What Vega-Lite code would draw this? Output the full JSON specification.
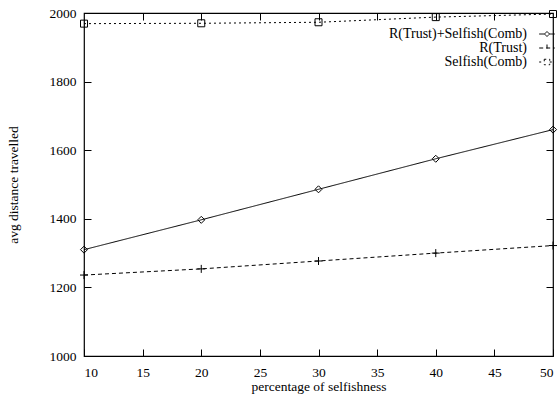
{
  "$schema": "https://vega.github.io/schema/vega-lite/v6.json",
  "width": 469,
  "height": 343,
  "autosize": "none",
  "padding": {"left": 84, "top": 13, "right": 5, "bottom": 39},
  "config": {
    "font": "Liberation Serif",
    "view": {"stroke": "black", "strokeWidth": 1.2},
    "axis": {
      "domain": false,
      "grid": false,
      "tickColor": "black",
      "tickSize": -7,
      "tickWidth": 1,
      "labelColor": "black",
      "labelFont": "Liberation Serif",
      "labelFontSize": 13.5,
      "titleFont": "Liberation Serif",
      "titleFontSize": 13.5,
      "titleFontWeight": "normal",
      "titleColor": "black"
    }
  },
  "data": {
    "values": [
      {"x": 10, "y": 1310, "series": "R(Trust)+Selfish(Comb)"},
      {"x": 20, "y": 1397, "series": "R(Trust)+Selfish(Comb)"},
      {"x": 30, "y": 1486, "series": "R(Trust)+Selfish(Comb)"},
      {"x": 40, "y": 1575, "series": "R(Trust)+Selfish(Comb)"},
      {"x": 50, "y": 1660, "series": "R(Trust)+Selfish(Comb)"},
      {"x": 10, "y": 1236, "series": "R(Trust)"},
      {"x": 20, "y": 1254, "series": "R(Trust)"},
      {"x": 30, "y": 1277, "series": "R(Trust)"},
      {"x": 40, "y": 1300, "series": "R(Trust)"},
      {"x": 50, "y": 1322, "series": "R(Trust)"},
      {"x": 10, "y": 1969, "series": "Selfish(Comb)"},
      {"x": 20, "y": 1970, "series": "Selfish(Comb)"},
      {"x": 30, "y": 1973, "series": "Selfish(Comb)"},
      {"x": 40, "y": 1988, "series": "Selfish(Comb)"},
      {"x": 50, "y": 1997, "series": "Selfish(Comb)"}
    ]
  },
  "layer": [
    {
      "mark": {"type": "line", "color": "black", "strokeWidth": 1},
      "encoding": {
        "x": {
          "field": "x", "type": "quantitative",
          "scale": {"domain": [10, 50], "nice": false},
          "axis": {"values": [10, 15, 20, 25, 30, 35, 40, 45, 50], "title": "percentage of selfishness", "labelPadding": 16, "titlePadding": 1}
        },
        "y": {
          "field": "y", "type": "quantitative",
          "scale": {"domain": [1000, 2000], "nice": false},
          "axis": {"values": [1000, 1200, 1400, 1600, 1800, 2000], "format": "d", "title": "avg distance travelled", "labelPadding": 15, "titlePadding": 29}
        },
        "strokeDash": {
          "field": "series", "type": "nominal",
          "scale": {"domain": ["R(Trust)+Selfish(Comb)", "R(Trust)", "Selfish(Comb)"], "range": [[1, 0], [4, 3], [2, 3]]},
          "legend": {
            "title": null,
            "orient": "none",
            "legendX": 456,
            "legendY": 14,
            "labelFont": "Liberation Serif",
            "labelFontSize": 14,
            "labelColor": "black",
            "labelAlign": "right",
            "labelOffset": -27,
            "rowPadding": -5,
            "symbolSize": 100,
            "symbolStrokeWidth": 1,
            "symbolStrokeColor": "black",
            "encode": {
              "symbols": {
                "update": {
                  "shape": {"signal": "datum.value == 'R(Trust)+Selfish(Comb)' ? 'M-1.56,0L-0.5,0M0.5,0L1.56,0M0,-0.5L0.5,0L0,0.5L-0.5,0Z' : datum.value == 'R(Trust)' ? 'M-1.56,0L1.56,0M0,-0.7L0,0.7' : 'M-1.56,0L-0.55,0M0.55,0L1.56,0M-0.55,-0.55L0.55,-0.55L0.55,0.55L-0.55,0.55Z'"},
                  "fill": {"value": "transparent"},
                  "stroke": {"value": "black"}
                }
              }
            }
          }
        }
      }
    },
    {
      "transform": [{"filter": "datum.series == 'R(Trust)+Selfish(Comb)'"}],
      "mark": {"type": "point", "filled": false, "color": "black", "strokeWidth": 1, "opacity": 1, "size": 49, "shape": "M0,-1L1,0L0,1L-1,0Z"},
      "encoding": {
        "x": {"field": "x", "type": "quantitative", "axis": {"orient": "top", "values": [15, 20, 25, 30, 35, 40, 45], "labels": false, "title": null}},
        "y": {"field": "y", "type": "quantitative", "axis": {"orient": "right", "values": [1200, 1400, 1600, 1800], "labels": false, "title": null}}
      }
    },
    {
      "transform": [{"filter": "datum.series == 'R(Trust)'"}],
      "mark": {"type": "point", "filled": false, "color": "black", "strokeWidth": 1, "opacity": 1, "size": 64, "shape": "M-1,0L1,0M0,-1L0,1"},
      "encoding": {
        "x": {"field": "x", "type": "quantitative", "axis": null},
        "y": {"field": "y", "type": "quantitative", "axis": null}
      }
    },
    {
      "transform": [{"filter": "datum.series == 'Selfish(Comb)'"}],
      "mark": {"type": "point", "filled": false, "color": "black", "strokeWidth": 1, "opacity": 1, "size": 49, "shape": "M-1,-1L1,-1L1,1L-1,1Z"},
      "encoding": {
        "x": {"field": "x", "type": "quantitative", "axis": null},
        "y": {"field": "y", "type": "quantitative", "axis": null}
      }
    }
  ],
  "resolve": {"axis": {"x": "independent", "y": "independent"}}
}
